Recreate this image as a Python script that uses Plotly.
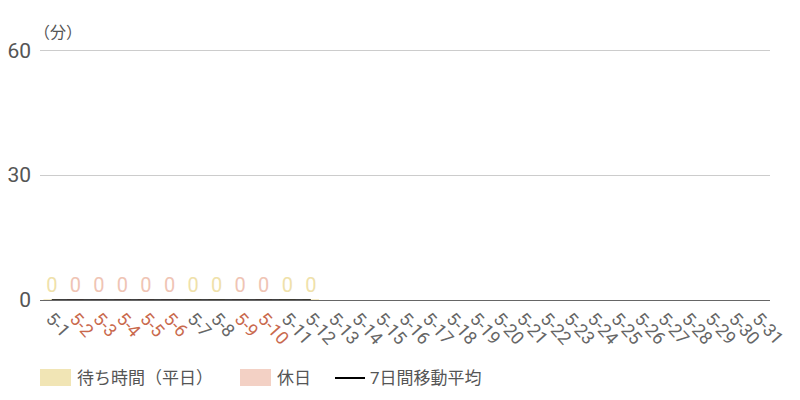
import plotly.graph_objects as go

# May 2020 daily wait time (minutes)
days = [f"5-{d}" for d in range(1, 32)]
holidays = ["5-2", "5-3", "5-4", "5-5", "5-6", "5-9", "5-10"]
wait_days = days[:12]
wait_values = [0] * 12
ma_days = days[:12]
ma_values = [0] * 12

weekday_color = "#f1e5b5"
holiday_color = "#f3d1c5"
wd_x = [d for d in wait_days if d not in holidays]
wd_y = [v for d, v in zip(wait_days, wait_values) if d not in holidays]
hd_x = [d for d in wait_days if d in holidays]
hd_y = [v for d, v in zip(wait_days, wait_values) if d in holidays]

fig = go.Figure()
fig.add_bar(x=wd_x, y=wd_y, name="待ち時間（平日）", marker_color=weekday_color,
            marker_line=dict(color=weekday_color, width=1),
            text=[str(v) for v in wd_y], textposition="outside",
            textfont=dict(color="#efe1aa", size=20), width=0.7, cliponaxis=False,
            showlegend=False)
fig.add_bar(x=hd_x, y=hd_y, name="休日", marker_color=holiday_color,
            marker_line=dict(color=holiday_color, width=1),
            text=[str(v) for v in hd_y], textposition="outside",
            textfont=dict(color="#efc4b4", size=20), width=0.7, cliponaxis=False,
            showlegend=False)
fig.add_scatter(x=ma_days, y=ma_values, mode="lines", name="7日間移動平均",
                line=dict(color="black", width=1.5), showlegend=False)

tick_text = [f'<span style="color:#c9694d">{d}</span>' if d in holidays else d for d in days]

fig.update_xaxes(type="category", categoryorder="array", categoryarray=days,
                 range=[-0.5, len(days) - 0.5], tickmode="array",
                 tickvals=days, ticktext=tick_text, tickangle=48,
                 tickfont=dict(size=18, color="#666666"),
                 showline=True, linecolor="#666666", linewidth=1, showgrid=False,
                 ticks="", automargin=False)
fig.update_yaxes(range=[0, 61], tickvals=[0, 30, 60], gridcolor="#cccccc",
                 tickfont=dict(size=21, color="#555555"), zeroline=False,
                 ticks="", ticklabelstandoff=8, automargin=False)
fig.add_annotation(text="（分）", x=0, y=60, xref="paper", yref="y",
                   xanchor="left", yanchor="bottom", xshift=-8, yshift=6,
                   showarrow=False, font=dict(size=16, color="#555555"))

# legend drawn by hand (wide swatches); positions in page pixels
def px_x(p):
    return (p - 40) / 730

def px_y(p):
    return (300 - p) / 254

legend_items = [
    ("rect", weekday_color, 40, "待ち時間（平日）"),
    ("rect", holiday_color, 240, "休日"),
    ("line", "black", 335, "7日間移動平均"),
]
for kind, color, x0, label in legend_items:
    if kind == "rect":
        fig.add_shape(type="rect", xref="paper", yref="paper",
                      x0=px_x(x0), x1=px_x(x0 + 31), y0=px_y(386), y1=px_y(369),
                      fillcolor=color, line_width=0)
        tx = x0 + 35
    else:
        fig.add_shape(type="line", xref="paper", yref="paper",
                      x0=px_x(x0), x1=px_x(x0 + 30), y0=px_y(378), y1=px_y(378),
                      line=dict(color=color, width=2))
        tx = x0 + 33
    fig.add_annotation(text=label, x=px_x(tx), y=px_y(378), xref="paper", yref="paper",
                       xanchor="left", yanchor="middle", showarrow=False,
                       font=dict(size=17, color="#555555"))

# page body has an 8px margin, so offset the plot area by that
fig.update_layout(
    width=800, height=400, barmode="overlay",
    plot_bgcolor="white", paper_bgcolor="white",
    font=dict(family="Roboto, Noto Sans CJK JP, sans-serif", color="#555555"),
    margin=dict(l=32, r=38, t=38, b=108),
    showlegend=False,
)
fig.write_html("out.html")
